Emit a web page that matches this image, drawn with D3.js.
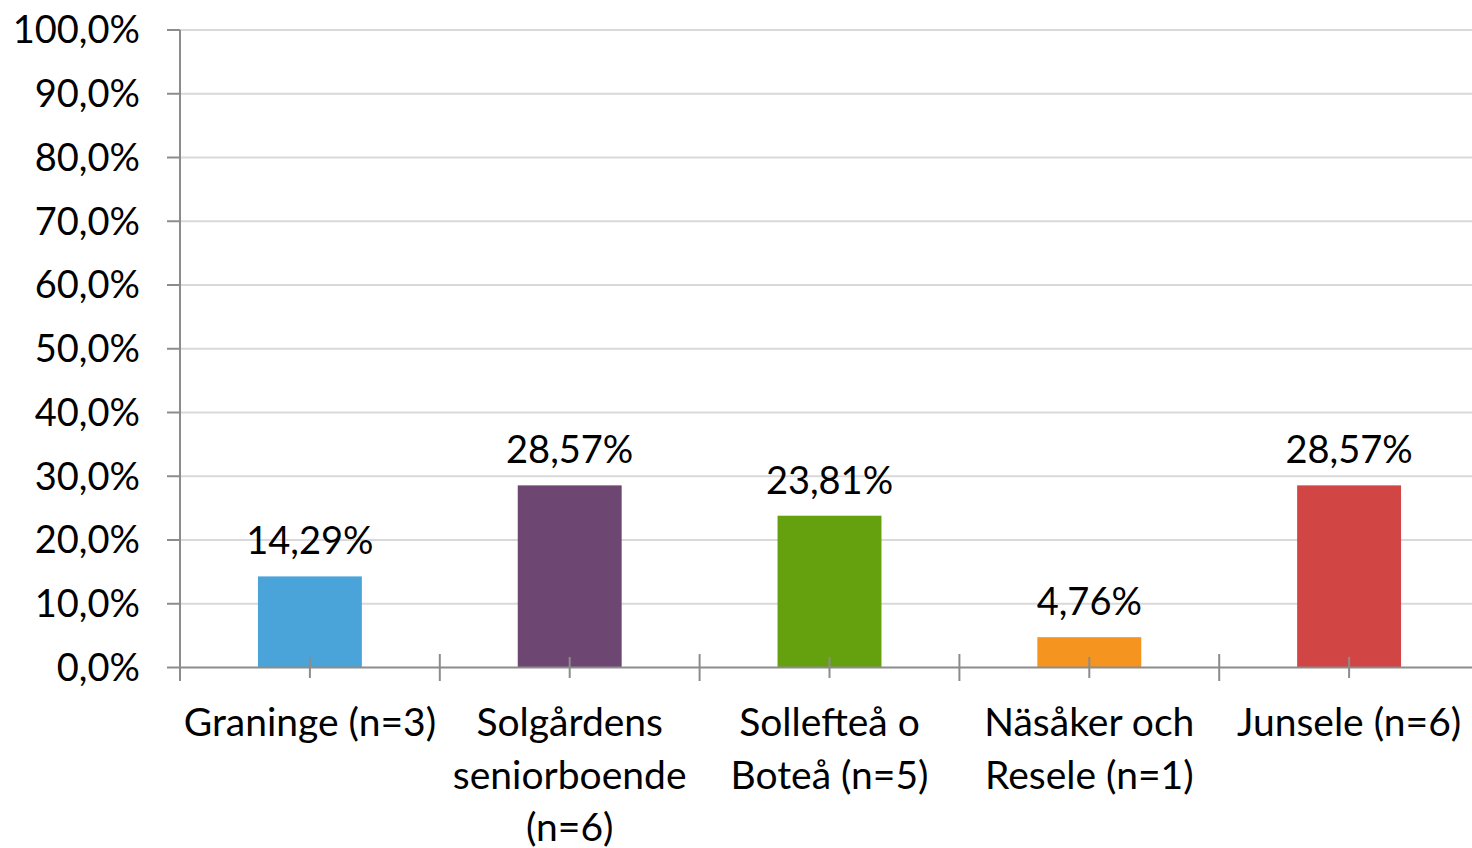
<!DOCTYPE html>
<html>
<head>
<meta charset="utf-8">
<script src="https://cdn.jsdelivr.net/npm/d3@7"></script>
<style>
  html, body { margin: 0; padding: 0; background: #fff; }
  svg { display: block; font-family: Lato, "Open Sans", sans-serif; }
</style>
</head>
<body>
<svg width="1472" height="848"></svg>
<script>
// DATA

var categories = ["Graninge (n=3)", "Solgårdens seniorboende (n=6)", "Sollefteå o Boteå (n=5)", "Näsåker och Resele (n=1)", "Junsele (n=6)"];
var categoryLines = [
  ["Graninge (n=3)"],
  ["Solgårdens", "seniorboende", "(n=6)"],
  ["Sollefteå o", "Boteå (n=5)"],
  ["Näsåker och", "Resele (n=1)"],
  ["Junsele (n=6)"]
];
var values = [14.29, 28.57, 23.81, 4.76, 28.57];
var valueLabels = ["14,29%", "28,57%", "23,81%", "4,76%", "28,57%"];
var colors = ["#4aa4da", "#6e4672", "#65a00f", "#f5951f", "#d14545"];
var yTicks = [0, 10, 20, 30, 40, 50, 60, 70, 80, 90, 100];

// SETUP

var svg = d3.select("svg"),
    plotLeft = 180, plotRight = 1479, plotTop = 30, plotBottom = 667.5;

var x = d3.scaleBand().domain(categories).range([plotLeft, plotRight]).paddingInner(0.6).paddingOuter(0.3),
    y = d3.scaleLinear().domain([0, 100]).range([plotBottom, plotTop]);

// gridlines
svg.append("g").selectAll("line")
    .data(yTicks.filter(function (d) { return d > 0; }))
    .enter().append("line")
    .attr("x1", plotLeft).attr("x2", 1472)
    .attr("y1", function (d) { return y(d); })
    .attr("y2", function (d) { return y(d); })
    .attr("stroke", "#d9d9d9")
    .attr("stroke-width", 2);

// bars
svg.append("g").selectAll("rect")
    .data(values)
    .enter().append("rect")
    .attr("x", function (d, i) { return x(categories[i]); })
    .attr("y", function (d) { return y(d); })
    .attr("width", x.bandwidth())
    .attr("height", function (d) { return plotBottom - y(d); })
    .attr("fill", function (d, i) { return colors[i]; });

// y axis
svg.append("line")
    .attr("x1", plotLeft).attr("x2", plotLeft)
    .attr("y1", plotTop).attr("y2", 681)
    .attr("stroke", "#8c8c8c").attr("stroke-width", 2);

svg.append("g").selectAll("line")
    .data(yTicks)
    .enter().append("line")
    .attr("x1", 167).attr("x2", plotLeft)
    .attr("y1", function (d) { return y(d); })
    .attr("y2", function (d) { return y(d); })
    .attr("stroke", "#8c8c8c").attr("stroke-width", 2);

svg.append("g").selectAll("text")
    .data(yTicks)
    .enter().append("text")
    .attr("x", 140)
    .attr("y", function (d) { return y(d); })
    .attr("dy", "0.35em")
    .attr("text-anchor", "end")
    .attr("font-size", 38)
    .attr("fill", "#000")
    .text(function (d) { return d3.format(".1f")(d).replace(".", ",") + "%"; });

// x axis
svg.append("line")
    .attr("x1", plotLeft).attr("x2", 1472)
    .attr("y1", plotBottom).attr("y2", plotBottom)
    .attr("stroke", "#8c8c8c").attr("stroke-width", 2);

var step = x.step();
var bounds = d3.range(categories.length + 1).map(function (i) { return plotLeft + i * step; });

svg.append("g").selectAll("line")
    .data(bounds.slice(1))
    .enter().append("line")
    .attr("x1", function (d) { return d; }).attr("x2", function (d) { return d; })
    .attr("y1", 654).attr("y2", 681)
    .attr("stroke", "#8c8c8c").attr("stroke-width", 2);

svg.append("g").selectAll("line")
    .data(categories)
    .enter().append("line")
    .attr("x1", function (d) { return x(d) + x.bandwidth() / 2; })
    .attr("x2", function (d) { return x(d) + x.bandwidth() / 2; })
    .attr("y1", 657).attr("y2", 678)
    .attr("stroke", "#8c8c8c").attr("stroke-width", 2);

// category labels
svg.append("g").selectAll("text")
    .data(categories)
    .enter().append("text")
    .attr("text-anchor", "middle")
    .attr("font-size", 39)
    .attr("fill", "#000")
    .each(function (d, i) {
        var t = d3.select(this), cx = x(d) + x.bandwidth() / 2;
        categoryLines[i].forEach(function (line, j) {
            t.append("tspan")
                .attr("x", cx)
                .attr("y", 736 + j * 52.5)
                .text(line);
        });
    });

// value labels
svg.append("g").selectAll("text")
    .data(values)
    .enter().append("text")
    .attr("x", function (d, i) { return x(categories[i]) + x.bandwidth() / 2; })
    .attr("y", function (d) { return y(d) - 22; })
    .attr("text-anchor", "middle")
    .attr("font-size", 38)
    .attr("fill", "#000")
    .text(function (d, i) { return valueLabels[i]; });
</script>
</body>
</html>
